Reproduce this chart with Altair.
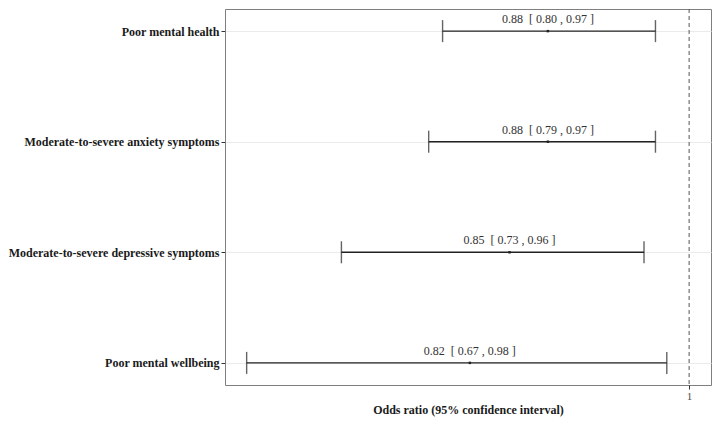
import altair as alt
import pandas as pd

outcomes = [
    "Poor mental health",
    "Moderate-to-severe anxiety symptoms",
    "Moderate-to-severe depressive symptoms",
    "Poor mental wellbeing",
]
odds_ratio = [0.88, 0.88, 0.85, 0.82]
ci_low = [0.80, 0.79, 0.73, 0.67]
ci_high = [0.97, 0.97, 0.96, 0.98]
ref_value = [1]
x_ticks = [1]

NB = "\u00a0"
labels = [f"{o:.2f}{NB}{NB}[ {l:.2f} , {h:.2f} ]" for o, l, h in zip(odds_ratio, ci_low, ci_high)]
df = pd.DataFrame({"outcome": outcomes, "or": odds_ratio, "lo": ci_low, "hi": ci_high, "label": labels})
ref = pd.DataFrame({"ref": ref_value})

FONT = "Liberation Serif"
xscale = alt.Scale(type="log", domain=[0.657, 1.02], nice=False, zero=False)
yscale = alt.Scale(type="point", padding=0.2, domain=outcomes)

base = alt.Chart(df)

y_enc = alt.Y(
    "outcome:N",
    sort=outcomes,
    scale=yscale,
    title=None,
    axis=alt.Axis(
        labelFont=FONT, labelFontWeight="bold", labelFontSize=12, labelColor="#1a1a1a",
        labelLimit=400,
        tickColor="#333333", tickSize=4, labelPadding=2, domain=False,
        grid=True, gridColor="#ebebeb", gridWidth=1,
    ),
)

rules = base.mark_rule(color="#222222", strokeWidth=1.4).encode(
    x=alt.X(
        "lo:Q", scale=xscale, title="Odds ratio (95% confidence interval)",
        axis=alt.Axis(
            values=x_ticks, format="d", labelFont=FONT, labelFontSize=11, labelColor="#4d4d4d",
            tickColor="#333333", tickSize=4, labelPadding=1, domain=False, grid=False,
            titleFont=FONT, titleFontWeight="bold", titleFontSize=12, titleColor="#1a1a1a",
            titlePadding=3,
        ),
    ),
    x2="hi:Q",
    y=y_enc,
)

cap_lo = base.mark_tick(color="#222222", size=22, thickness=1.4).encode(
    x=alt.X("lo:Q", scale=xscale), y=alt.Y("outcome:N", sort=outcomes, scale=yscale)
)
cap_hi = base.mark_tick(color="#222222", size=22, thickness=1.4).encode(
    x=alt.X("hi:Q", scale=xscale), y=alt.Y("outcome:N", sort=outcomes, scale=yscale)
)
points = base.mark_square(color="#222222", size=6, opacity=1).encode(
    x=alt.X("or:Q", scale=xscale), y=alt.Y("outcome:N", sort=outcomes, scale=yscale)
)
texts = base.mark_text(font=FONT, fontSize=12, color="#333333", dy=-12).encode(
    x=alt.X("or:Q", scale=xscale), y=alt.Y("outcome:N", sort=outcomes, scale=yscale),
    text="label:N",
)
refline = alt.Chart(ref).mark_rule(color="#555555", strokeDash=[4, 3], strokeWidth=1).encode(
    x=alt.X("ref:Q", scale=xscale)
)

chart = alt.layer(rules, cap_lo, cap_hi, points, texts, refline).properties(
    width=486,
    height=376,
    padding={"left": 217, "top": 1, "right": 1, "bottom": 34},
    autosize=alt.AutoSizeParams(type="none"),
    background="white",
).configure_view(stroke="#7f7f7f", strokeWidth=1)

chart.save("out.html", embed_options={"renderer": "svg", "actions": False})
